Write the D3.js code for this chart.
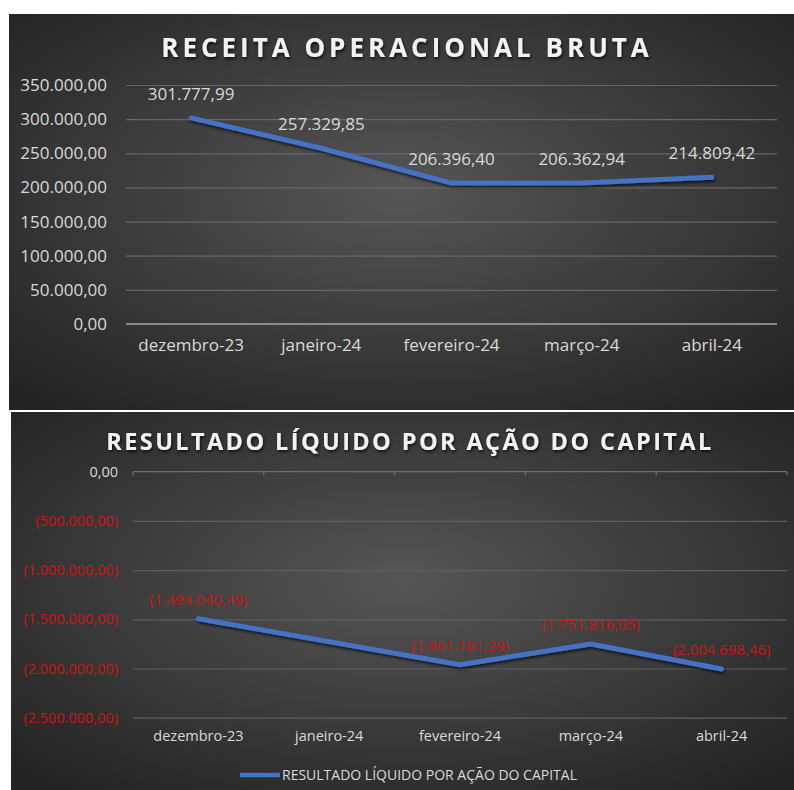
<!DOCTYPE html>
<html lang="pt-BR">
<head>
<meta charset="UTF-8">
<title>Receita operacional bruta / Resultado líquido por ação do capital</title>
<style>
  body { margin: 0; background: #fff; }
  svg { display: block; font-family: "Open Sans", sans-serif; }
  .domain { display: none; }
</style>
</head>
<body>
<svg id="chart" width="794" height="790"></svg>

<script src="https://cdn.jsdelivr.net/npm/d3@7"></script>
<script>
// data
const months = ["dezembro-23", "janeiro-24", "fevereiro-24", "março-24", "abril-24"];
const receita = [301777.99, 257329.85, 206396.40, 206362.94, 214809.42];
const resultado = [-1494040.49, null, -1961181.29, -1751816.05, -2004698.46]; // janeiro has no value
const receitaTicks = [0, 50000, 100000, 150000, 200000, 250000, 300000, 350000];
const resultadoTicks = [0, -500000, -1000000, -1500000, -2000000, -2500000];

const br = d3.formatLocale({decimal: ",", thousands: ".", grouping: [3], currency: ["R$ ", ""]});
const fmt2 = br.format(",.2f");
// excel accounting style: negatives in parentheses
const fmtAcct = v => v < 0 ? `(${fmt2(-v)})` : fmt2(v);

const blue = "#4472c4";
const labelGrey = "#d9d9d9";
const red = "#cc1414";

const svg = d3.select("#chart");
const defs = svg.append("defs");

const grad = defs.append("radialGradient")
    .attr("id", "bg")
    .attr("cx", "50%").attr("cy", "45%").attr("r", "70%");
grad.append("stop").attr("offset", "0%").attr("stop-color", "#565656");
grad.append("stop").attr("offset", "100%").attr("stop-color", "#232323");

const shadow = defs.append("filter").attr("id", "shadow")
    .attr("x", "-10%").attr("y", "-30%").attr("width", "120%").attr("height", "160%");
shadow.append("feDropShadow")
    .attr("dx", 1).attr("dy", 2).attr("stdDeviation", 1.5)
    .attr("flood-color", "#000").attr("flood-opacity", 0.7);

function panel(x, y, w, h) {
    svg.append("rect")
        .attr("x", x).attr("y", y)
        .attr("width", w).attr("height", h)
        .attr("fill", "url(#bg)");
}

function centerOf(scale) {
    return d => scale(d) + scale.bandwidth() / 2;
}

// d3 axes put font-family="sans-serif" on their group; drop it so the svg font applies
function styleAxis(g, size, fill) {
    g.attr("font-family", null).attr("font-size", null);
    g.selectAll("text").attr("font-size", size).attr("fill", fill);
}

// ---------- chart 1: receita operacional bruta ----------
panel(9, 14, 785, 396);

const x1 = d3.scaleBand().domain(months).range([126, 777]);
const y1 = d3.scaleLinear().domain([0, 350000]).range([324, 85]);
const cx1 = centerOf(x1);

const g1 = svg.append("g");

g1.append("text")
    .attr("x", 407).attr("y", 57)
    .attr("text-anchor", "middle")
    .attr("font-size", 26).attr("font-weight", 700)
    .attr("letter-spacing", 4)
    .attr("fill", "#f2f2f2")
    .attr("filter", "url(#shadow)")
    .text("RECEITA OPERACIONAL BRUTA");

// gridlines
g1.append("g")
    .attr("transform", "translate(126,0)")
    .call(d3.axisLeft(y1).tickValues(receitaTicks.slice(1)).tickSize(-651).tickFormat(""))
    .call(g => g.selectAll("line").attr("stroke", "#666").attr("stroke-width", 1.2));

// zero baseline
g1.append("line")
    .attr("x1", 126).attr("x2", 777)
    .attr("y1", y1(0)).attr("y2", y1(0))
    .attr("stroke", "#a6a6a6").attr("stroke-width", 1.6);

// y labels
g1.append("g")
    .attr("transform", "translate(126,0)")
    .call(d3.axisLeft(y1).tickValues(receitaTicks).tickSize(0).tickPadding(19).tickFormat(fmt2))
    .call(g => styleAxis(g, 17, labelGrey));

// x labels
g1.append("g")
    .attr("transform", `translate(0,${y1(0)})`)
    .call(d3.axisBottom(x1).tickSize(0).tickPadding(14.5))
    .call(g => styleAxis(g, 17, labelGrey));

const line1 = d3.line()
    .x((d, i) => cx1(months[i]))
    .y(d => y1(d));

g1.append("path")
    .datum(receita)
    .attr("d", line1)
    .attr("fill", "none")
    .attr("stroke", blue).attr("stroke-width", 5)
    .attr("stroke-linecap", "round").attr("stroke-linejoin", "round")
    .attr("filter", "url(#shadow)");

g1.append("g").selectAll("text")
    .data(receita)
    .join("text")
    .attr("x", (d, i) => cx1(months[i]))
    .attr("y", d => y1(d) - 18)
    .attr("text-anchor", "middle")
    .attr("font-size", 17)
    .attr("fill", labelGrey)
    .text(d => fmt2(d));

// ---------- chart 2: resultado líquido por ação do capital ----------
panel(11, 412, 783, 378);

const x2 = d3.scaleBand().domain(months).range([133, 787]);
const y2 = d3.scaleLinear().domain([-2500000, 0]).range([717.7, 471.7]);
const cx2 = centerOf(x2);

const g2 = svg.append("g");

g2.append("text")
    .attr("x", 410).attr("y", 450)
    .attr("text-anchor", "middle")
    .attr("font-size", 23.5).attr("font-weight", 700)
    .attr("letter-spacing", 2.4)
    .attr("fill", "#f2f2f2")
    .attr("filter", "url(#shadow)")
    .text("RESULTADO LÍQUIDO POR AÇÃO DO CAPITAL");

g2.append("g")
    .attr("transform", "translate(133,0)")
    .call(d3.axisLeft(y2).tickValues(resultadoTicks.slice(1)).tickSize(-654).tickFormat(""))
    .call(g => g.selectAll("line").attr("stroke", "#5e5e5e").attr("stroke-width", 1.2));

// category axis sits on zero, tick marks at the band edges
const edges = x2.domain().map(d => x2(d)).concat(x2.range()[1]);
g2.append("line")
    .attr("x1", 133).attr("x2", 787)
    .attr("y1", y2(0)).attr("y2", y2(0))
    .attr("stroke", "#6e6e6e").attr("stroke-width", 1.2);
g2.append("g").selectAll("line")
    .data(edges)
    .join("line")
    .attr("x1", d => d).attr("x2", d => d)
    .attr("y1", y2(0)).attr("y2", y2(0) + 4)
    .attr("stroke", "#6e6e6e").attr("stroke-width", 1.2);

g2.append("g")
    .attr("transform", "translate(133,0)")
    .call(d3.axisLeft(y2).tickValues(resultadoTicks).tickSize(0).tickPadding(15).tickFormat(fmtAcct))
    .call(g => styleAxis(g, 14.5, labelGrey))
    .call(g => g.selectAll("text").attr("fill", d => d < 0 ? red : labelGrey));

g2.append("g")
    .attr("transform", `translate(0,${y2(-2500000)})`)
    .call(d3.axisBottom(x2).tickSize(0).tickPadding(13.5))
    .call(g => styleAxis(g, 14.5, labelGrey));

const pts2 = resultado
    .map((v, i) => ({m: months[i], v}))
    .filter(d => d.v !== null);

g2.append("path")
    .datum(pts2)
    .attr("d", d3.line().x(d => cx2(d.m)).y(d => y2(d.v)))
    .attr("fill", "none")
    .attr("stroke", blue).attr("stroke-width", 5)
    .attr("stroke-linecap", "round").attr("stroke-linejoin", "round")
    .attr("filter", "url(#shadow)");

g2.append("g").selectAll("text")
    .data(pts2)
    .join("text")
    .attr("x", d => cx2(d.m))
    .attr("y", d => y2(d.v) - 14)
    .attr("text-anchor", "middle")
    .attr("font-size", 15)
    .attr("fill", red)
    .text(d => fmtAcct(d.v));

// legend
const legend = g2.append("g").attr("transform", "translate(240,775)");
legend.append("line")
    .attr("x1", 0).attr("x2", 40)
    .attr("stroke", blue).attr("stroke-width", 4.5);
legend.append("text")
    .attr("x", 42).attr("y", 5)
    .attr("font-size", 14)
    .attr("fill", labelGrey)
    .text("RESULTADO LÍQUIDO POR AÇÃO DO CAPITAL");
</script>
</body>
</html>
